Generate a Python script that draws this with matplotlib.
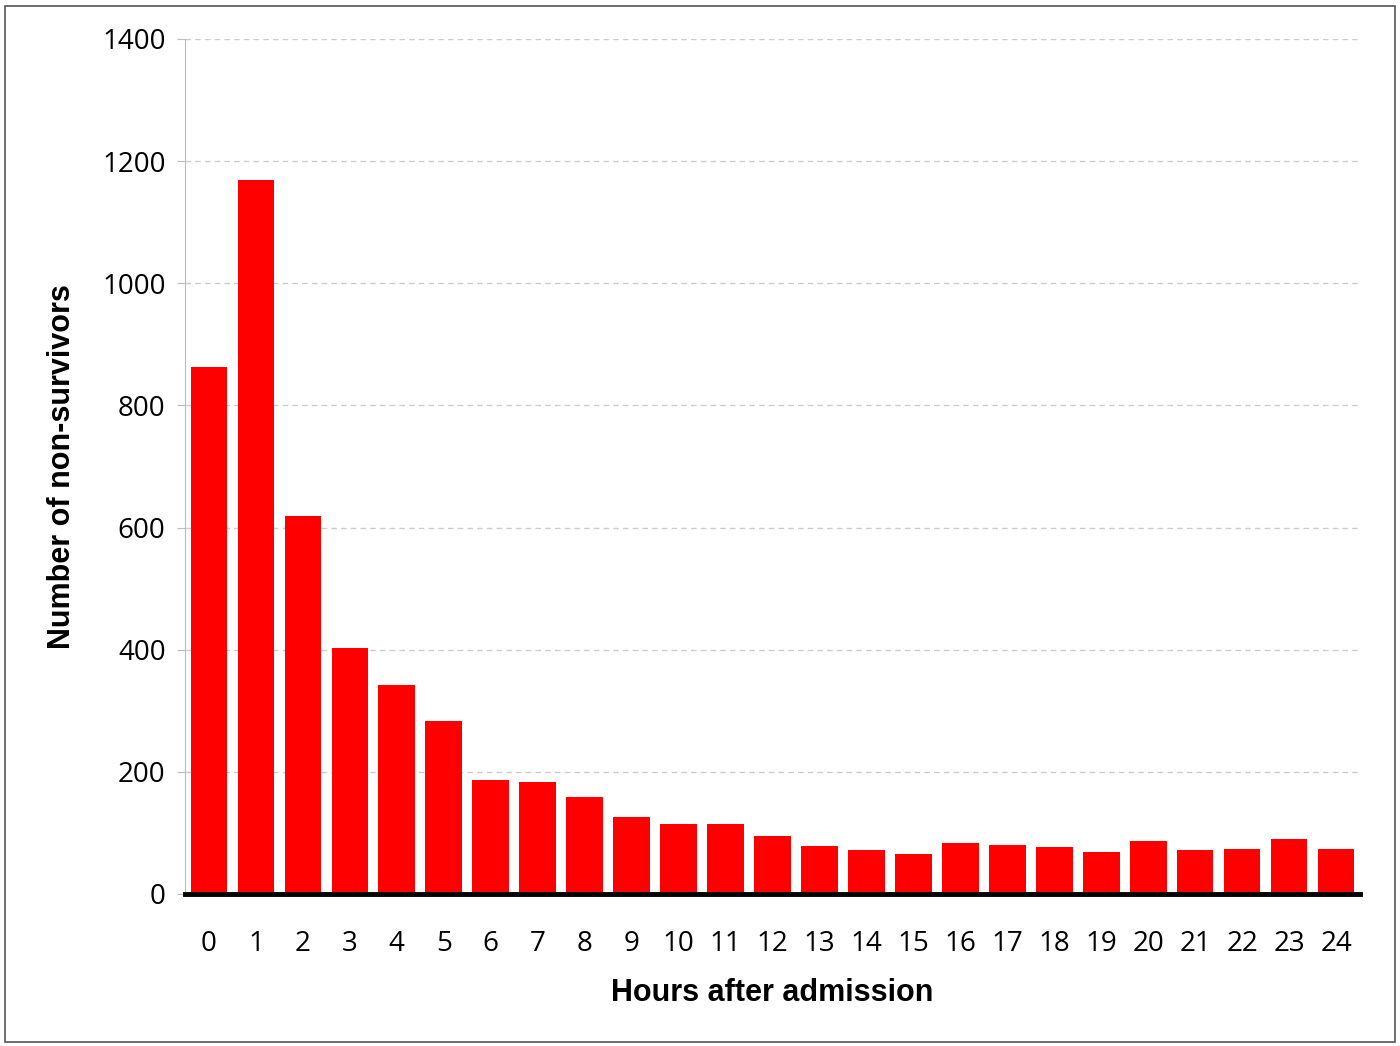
import matplotlib
matplotlib.use("Agg")
import matplotlib.pyplot as plt
from matplotlib.patches import Rectangle

hours = list(range(25))
hour_labels = [str(h) for h in hours]
non_survivors = [863, 1169, 619, 403, 342, 283, 187, 183, 159, 126, 115, 115, 95, 79, 72, 65,
                 84, 80, 77, 69, 87, 72, 74, 90, 74]
yticks = [0, 200, 400, 600, 800, 1000, 1200, 1400]

fig = plt.figure(figsize=(14, 10.46), dpi=100)
ax = fig.add_axes([185/1400, 1-894/1046, (1360-185)/1400, (894-39)/1046])
fig.add_artist(Rectangle((5/1400, 4/1046), 1390/1400, 1036/1046, transform=fig.transFigure,
                         fill=False, edgecolor="#555555", linewidth=1.2))

ax.bar(hours, non_survivors, width=0.78, color="#ff0000", zorder=3)
ax.set_xlim(-0.51, 24.51)
ax.set_ylim(0, 1400)
ax.set_yticks(yticks)
ax.set_xticks(hours)
ax.set_xticklabels(hour_labels)
ax.grid(axis="y", linestyle=(0, (4, 3)), color="#cccccc", linewidth=1, zorder=0)
for s in ["top", "right"]:
    ax.spines[s].set_visible(False)
ax.spines["left"].set_color("#bbbbbb")
ax.spines["bottom"].set_linewidth(3.5)
ax.spines["bottom"].set_zorder(4)
ax.tick_params(axis="y", length=6, color="#bbbbbb", labelsize=20, pad=8)
ax.tick_params(axis="x", length=0, labelsize=20, pad=26)
for t in ax.get_xticklabels() + ax.get_yticklabels():
    t.set_fontfamily("Open Sans")
ax.set_xlabel("Hours after admission", fontsize=22, fontweight="bold", family="Liberation Sans", labelpad=14)
ax.set_ylabel("Number of non-survivors", fontsize=22, fontweight="bold", family="Liberation Sans", labelpad=18)
fig.savefig("out.png", dpi=100)
